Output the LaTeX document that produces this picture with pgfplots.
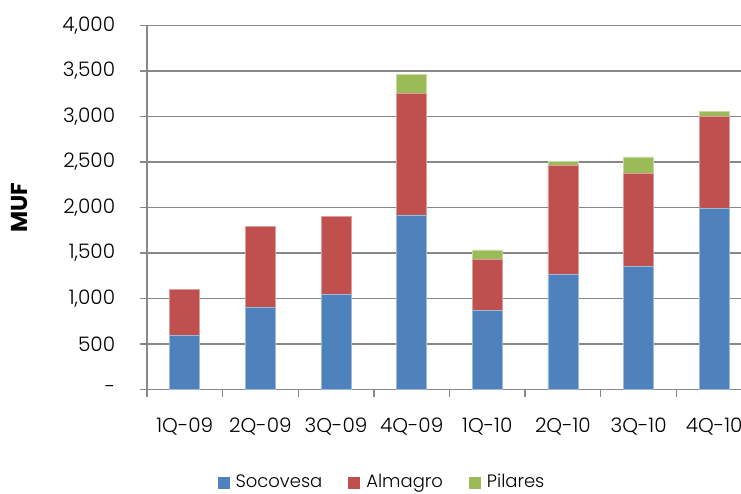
\documentclass[border=0pt]{standalone}
\usepackage{fontspec}
\setmainfont{Poppins}[UprightFont={* Light}, BoldFont={* Bold}]
\usepackage{pgfplots}
\pgfplotsset{compat=1.18}
\definecolor{soc}{HTML}{4F81BD}
\definecolor{alm}{HTML}{C0504D}
\definecolor{pil}{HTML}{9BBB59}
\definecolor{axgray}{HTML}{888888}
\begin{document}
\fontsize{20}{24}\selectfont
\begin{tikzpicture}
\begin{axis}[
  at={(147pt,103.5pt)}, anchor=south west,
  scale only axis, width=605pt, height=364pt,
  xmin=0, xmax=8, ymin=0, ymax=4000,
  ybar stacked, bar width=30pt, bar shift=0pt,
  axis x line*=bottom, axis y line*=left,
  axis line style={axgray, line width=1.5pt},
  ytick={0,500,...,4000},
  yticklabels={-,500,{1,000},{1,500},{2,000},{2,500},{3,000},{3,500},{4,000}},
  ymajorgrids, grid style={axgray, line width=1.3pt},
  xtick={0,1,...,8},
  x tick label as interval,
  xticklabels={1Q-09,2Q-09,3Q-09,4Q-09,1Q-10,2Q-10,3Q-10,4Q-10},
  tick align=outside,
  major tick length=7pt,
  tick style={axgray, line width=1.3pt},
  ticklabel style={font=\fontsize{20}{24}\selectfont},
  yticklabel style={xshift=-18pt},
  xticklabel style={yshift=-15pt},
  ylabel={\bfseries MUF},
  ylabel style={at={(axis description cs:-0.21,0.5)}, anchor=center, font=\fontsize{23}{28}\selectfont},
  legend style={at={(0.3884,-0.256)}, anchor=center, draw=none, legend columns=3,
    /tikz/every odd column/.append style={column sep=4pt},
    /tikz/every even column/.append style={column sep=24pt},
    font=\fontsize{18}{22}\selectfont},
  legend image code/.code={\fill[#1,draw=none] (0pt,-6pt) rectangle (12pt,6pt);},
]
\addplot[fill=soc, draw=soc!55!white, line width=0.8pt] coordinates {(0.5,595) (1.5,900) (2.5,1046) (3.5,1918) (4.5,866) (5.5,1262) (6.5,1354) (7.5,1991)};
\addplot[fill=alm, draw=alm!55!white, line width=0.8pt] coordinates {(0.5,506) (1.5,893) (2.5,857) (3.5,1340) (4.5,560) (5.5,1197) (6.5,1017) (7.5,1014)};
\addplot[fill=pil, draw=pil!55!white, line width=0.8pt] coordinates {(0.5,0) (1.5,0) (2.5,0) (3.5,201) (4.5,107) (5.5,52) (6.5,184) (7.5,55)};
\legend{Socovesa,Almagro,Pilares}
\end{axis}
\pgfresetboundingbox
\useasboundingbox (0,0) rectangle (741pt,493pt);
\end{tikzpicture}
\end{document}
